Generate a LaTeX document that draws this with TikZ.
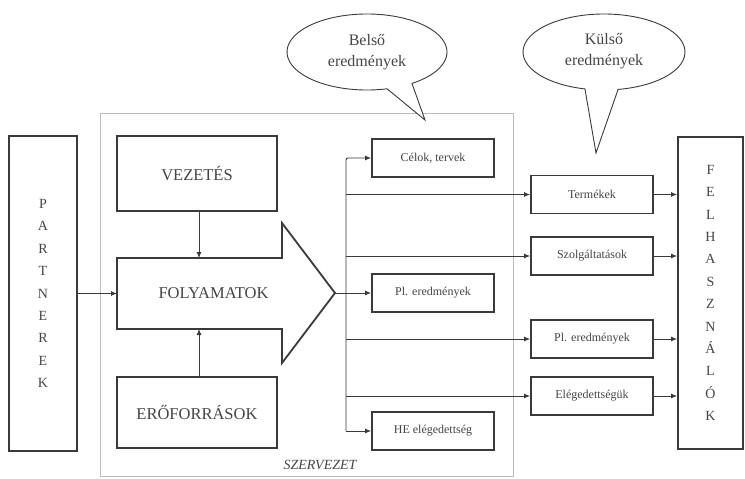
\documentclass[tikz,border=0pt]{standalone}
\usepackage{fontspec}
\setmainfont{Liberation Serif}
\usetikzlibrary{arrows.meta}
\definecolor{ink}{HTML}{3A3A3A}
\definecolor{txt}{HTML}{454545}
\definecolor{frame}{HTML}{BDBDBD}
\begin{document}
\begin{tikzpicture}[x=1pt,y=-1pt,
  box/.style={draw=ink,line width=1.8pt,fill=white,inner sep=0pt,text=txt,align=center},
  bigbox/.style={box,font=\fontsize{16.5}{20}\selectfont},
  smallbox/.style={box,minimum width=122pt,minimum height=38pt,font=\fontsize{12}{14}\selectfont},
  vbox/.style={box,font=\fontsize{14}{22.4}\selectfont},
  arr/.style={draw=ink,line width=0.9pt,-{Latex[length=6pt,width=5pt]}},
  callout/.style={draw=ink,line width=0.9pt,fill=white},
  ctext/.style={text=txt,align=center,font=\fontsize{16}{21}\selectfont}]
\useasboundingbox (0,0) rectangle (745,479);
% organisation frame
\draw[frame,line width=1pt] (100,113) rectangle (513,476);
\node[text=txt,font=\fontsize{14}{16}\selectfont\itshape] (szervezet) at (320,465) {SZERVEZET};
% partners and users
\node[vbox,minimum width=68pt,minimum height=315pt] (partner) at (43,293.5) {P\\A\\R\\T\\N\\E\\R\\E\\K};
\node[vbox,minimum width=65pt,minimum height=312pt] (felh) at (710.5,293) {F\\E\\L\\H\\A\\S\\Z\\N\\Á\\L\\Ó\\K};
% left blocks
\node[bigbox,minimum width=160pt,minimum height=75pt] (vezetes) at (197,173.5) {VEZETÉS};
\node[bigbox,minimum width=160pt,minimum height=71pt] (eroforras) at (197,412.5) {ERŐFORRÁSOK};
% process arrow
\draw[draw=ink,line width=1.8pt,fill=white,line join=miter]
  (117,258) -- (282,258) -- (282,223) -- (335,293) -- (282,363) -- (282,329) -- (117,329) -- cycle;
\node[text=txt,font=\fontsize{16.5}{20}\selectfont] (folyamatok) at (213.5,293.5) {FOLYAMATOK};
\coordinate (fin) at (117,293.5);
\coordinate (ftop) at (199,258);
\coordinate (fbot) at (199,329);
\coordinate (tip) at (335,293);
\coordinate (bus) at (346,293);
% middle boxes
\node[smallbox] (celok) at (433,158) {Célok, tervek};
\node[smallbox] (pl1) at (433,293) {Pl. eredmények};
\node[smallbox] (he) at (433,431) {HE elégedettség};
% right boxes
\node[smallbox] (termek) at (592,194.5) {Termékek};
\node[smallbox] (szolg) at (592,256) {Szolgáltatások};
\node[smallbox] (pl2) at (592,339) {Pl. eredmények};
\node[smallbox] (eleg) at (592,396) {Elégedettségük};
% connectors
\draw[arr] (partner.east |- fin) -- (fin);
\draw[arr] (vezetes.south -| ftop) -- (ftop);
\draw[arr] (eroforras.north -| fbot) -- (fbot);
\draw[arr] (tip) -- (pl1.west);
\draw[arr,rounded corners=2pt] (bus |- he.west) |- (celok.west);
\draw[arr] (bus |- he.west) -- (he.west);
\draw[arr] (bus |- termek.west) -- (termek.west);
\draw[arr] (bus |- szolg.west) -- (szolg.west);
\draw[arr] (bus |- pl2.west) -- (pl2.west);
\draw[arr] (bus |- eleg.west) -- (eleg.west);
\draw[arr] (termek.east) -- (termek.east -| felh.west);
\draw[arr] (szolg.east) -- (szolg.east -| felh.west);
\draw[arr] (pl2.east) -- (pl2.east -| felh.west);
\draw[arr] (eleg.east) -- (eleg.east -| felh.west);
% callouts
\coordinate (btip) at (425,120);
\coordinate (ktip) at (596,153);
\draw[callout] (367,52) ++({80*cos(75.5)},{38*sin(75.5)})
  arc[start angle=75.5,end angle=415.8,x radius=80,y radius=38] -- (btip) -- cycle;
\draw[callout] (604,52) ++({81*cos(103.6)},{38*sin(103.6)})
  arc[start angle=103.6,end angle=440,x radius=81,y radius=38] -- (ktip) -- cycle;
\node[ctext] (belso) at (367,52) {Belső\\eredmények};
\node[ctext] (kulso) at (604,51) {Külső\\eredmények};
\end{tikzpicture}
\end{document}
